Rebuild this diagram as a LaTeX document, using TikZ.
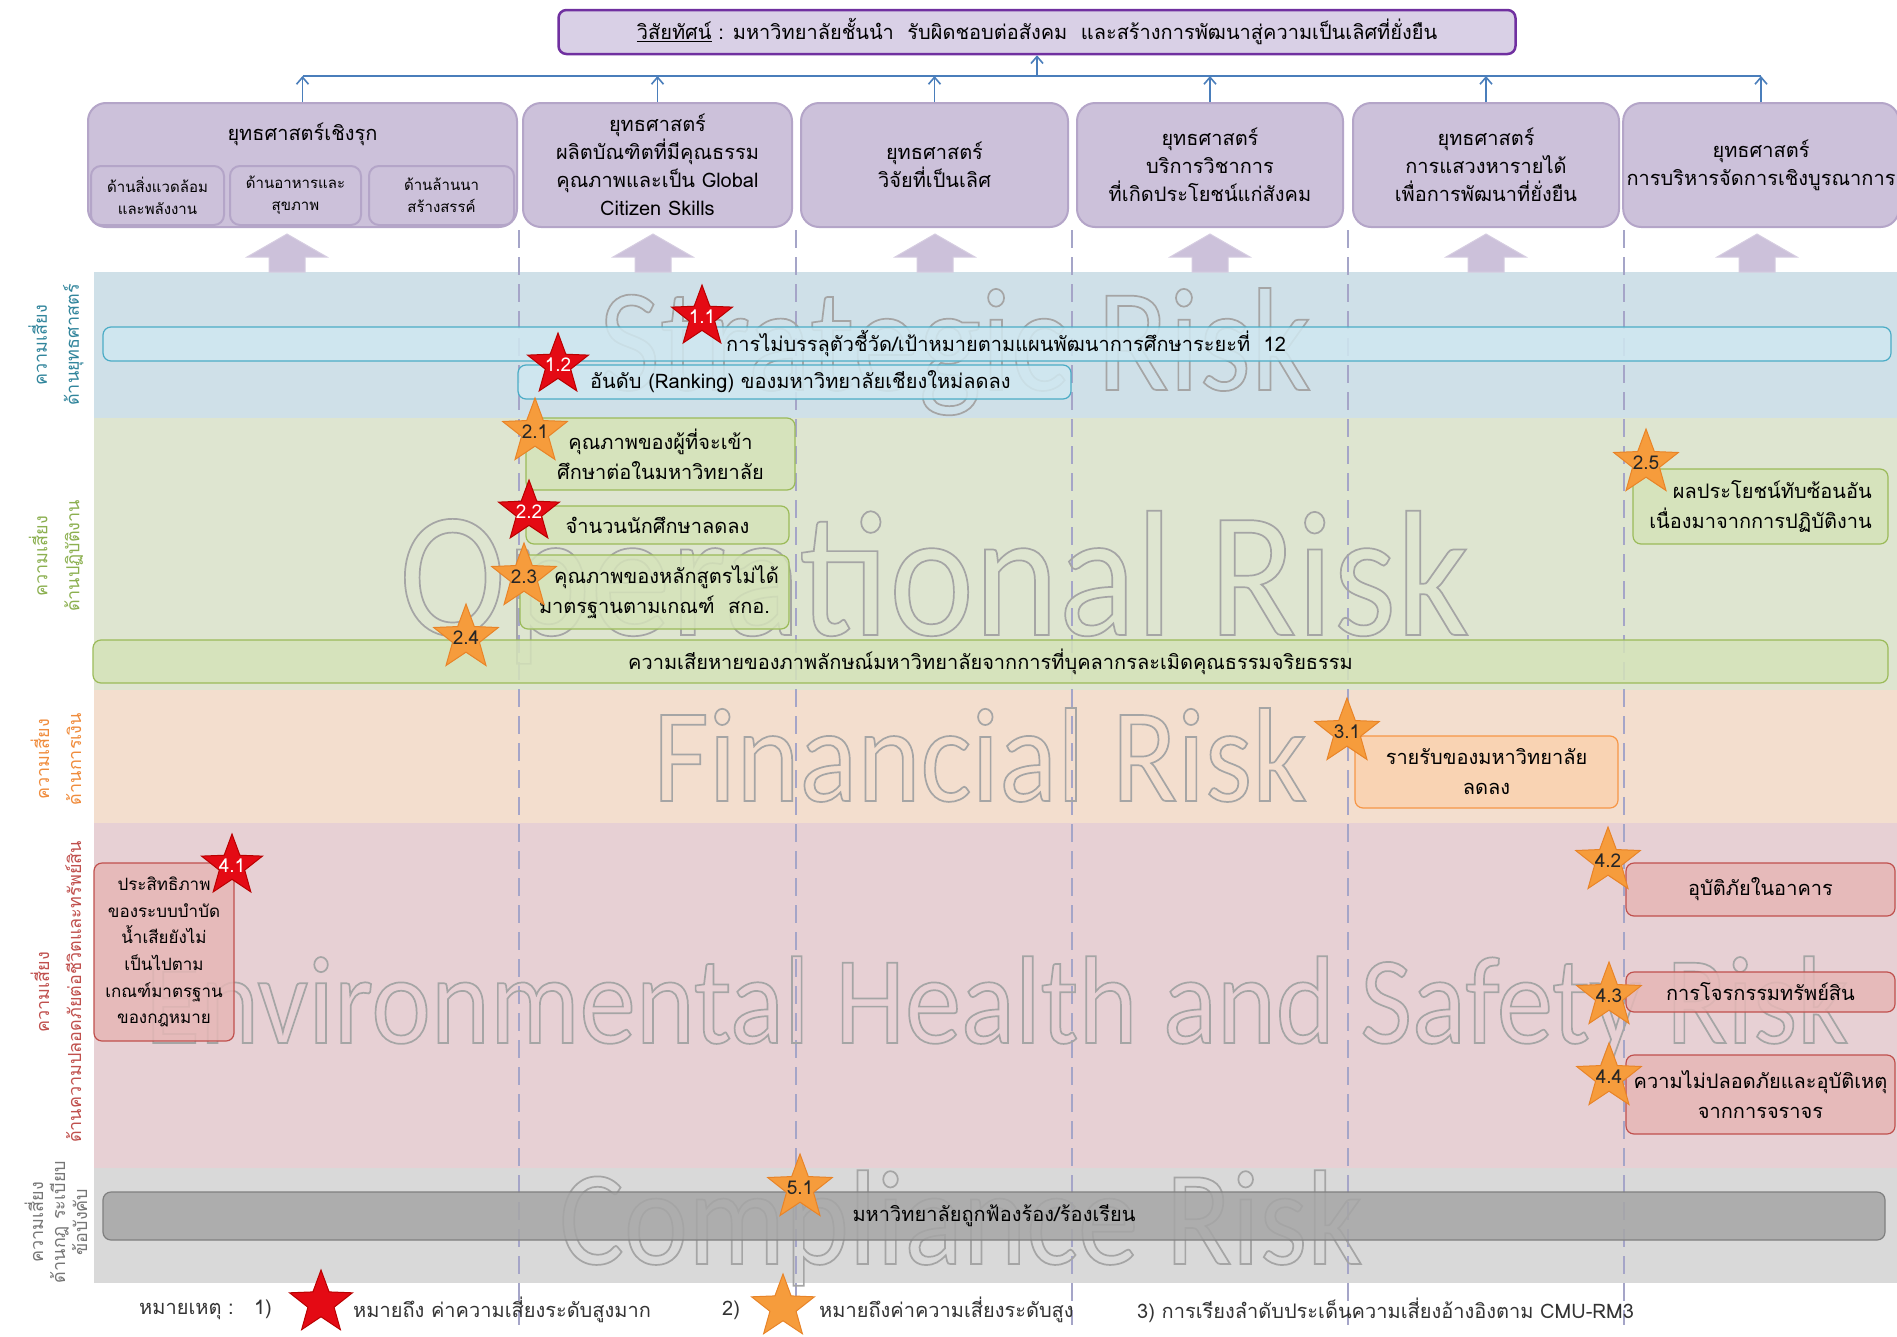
\documentclass[tikz,border=0pt]{standalone}
\usepackage{fontspec}
\setmainfont[Script=Thai]{Loma}
\newfontfamily\wmfont[FakeStretch=0.9]{Carlito}
\usetikzlibrary{shapes.geometric,arrows.meta,positioning}

\definecolor{visfill}{RGB}{217,208,230}
\definecolor{visline}{RGB}{112,48,160}
\definecolor{stratfill}{RGB}{204,193,218}
\definecolor{stratline}{RGB}{180,165,200}
\definecolor{linkblue}{RGB}{74,126,187}
\definecolor{sepgray}{RGB}{165,165,200}
\definecolor{bandblue}{RGB}{207,224,232}
\definecolor{bandgreen}{RGB}{222,229,208}
\definecolor{bandorange}{RGB}{243,222,206}
\definecolor{bandred}{RGB}{231,208,212}
\definecolor{bandgray}{RGB}{217,217,217}
\definecolor{boxblue}{RGB}{208,232,241}
\definecolor{lineblue}{RGB}{75,172,198}
\definecolor{boxgreen}{RGB}{213,227,185}
\definecolor{linegreen}{RGB}{155,187,89}
\definecolor{boxorange}{RGB}{251,210,175}
\definecolor{lineorange}{RGB}{247,150,70}
\definecolor{boxred}{RGB}{230,183,182}
\definecolor{linered}{RGB}{192,80,77}
\definecolor{boxgray}{RGB}{166,166,166}
\definecolor{linegray}{RGB}{127,127,127}
\definecolor{starred}{RGB}{228,10,20}
\definecolor{starredline}{RGB}{185,0,0}
\definecolor{starorange}{RGB}{246,156,60}
\definecolor{starorangeline}{RGB}{232,132,40}
\definecolor{labblue}{RGB}{49,133,156}
\definecolor{labgreen}{RGB}{140,176,80}
\definecolor{laborange}{RGB}{240,140,60}
\definecolor{labred}{RGB}{192,80,77}
\definecolor{labgray}{RGB}{118,118,118}
\definecolor{wmgray}{RGB}{165,165,165}

\tikzstyle{visbox}=[draw=visline,fill=visfill,line width=2.5pt,rounded corners=8pt,font=\fontsize{20}{24}\selectfont]
\tikzstyle{stratbox}=[draw=stratline,fill=stratfill,line width=2pt,rounded corners=18pt,minimum height=124pt,align=center,font=\fontsize{20}{28}\selectfont]
\tikzstyle{subbox}=[draw=stratline,fill=stratfill,line width=2pt,rounded corners=10pt,minimum height=59pt,align=center,font=\fontsize{15}{22}\selectfont]
\tikzstyle{titletext}=[font=\fontsize{20}{24}\selectfont]
\tikzstyle{link}=[draw=linkblue,line width=1.6pt]
\tikzstyle{bigarrow}=[fill=stratfill,draw=stratfill!80!white,line width=1pt]
\tikzstyle{sepline}=[draw=sepgray,line width=1.4pt,dash pattern=on 18pt off 9pt]
\tikzstyle{riskbox}=[rounded corners=8pt,line width=1.2pt,align=center,fill opacity=0.85,text opacity=1,font=\fontsize{20}{30}\selectfont]
\tikzstyle{bluebox}=[riskbox,draw=lineblue,fill=boxblue]
\tikzstyle{greenbox}=[riskbox,draw=linegreen,fill=boxgreen]
\tikzstyle{orangebox}=[riskbox,draw=lineorange,fill=boxorange]
\tikzstyle{redbox}=[riskbox,draw=linered,fill=boxred]
\tikzstyle{graybox}=[riskbox,draw=linegray,fill=boxgray]
\tikzstyle{boxtext}=[font=\fontsize{20}{30}\selectfont,anchor=west,inner sep=0pt]
\tikzstyle{watermark}=[text=wmgray,anchor=base west,inner sep=0pt]
\tikzstyle{redstar}=[star,star points=5,star point ratio=2.4,minimum size=64pt,inner sep=0pt,fill=starred,draw=starredline,line width=1pt]
\tikzstyle{orangestar}=[star,star points=5,star point ratio=2.4,minimum size=68pt,inner sep=0pt,fill=starorange,draw=starorangeline,line width=1pt]
\tikzstyle{rednum}=[text=white,font=\fontsize{19}{19}\selectfont,inner sep=0pt]
\tikzstyle{orangenum}=[text=black!85,font=\fontsize{19}{19}\selectfont,inner sep=0pt]
\tikzstyle{sidelabel}=[rotate=90,align=center,font=\fontsize{18}{32}\selectfont]
\tikzstyle{legendtext}=[text=black!80,font=\fontsize{20}{24}\selectfont,anchor=west,inner sep=0pt]

% outlined letters for the background titles
\newcommand{\hollow}[1]{\special{pdf:literal direct 1 Tr 1.7 w}#1\special{pdf:literal direct 0 Tr}}
% Syntax: \riskstar{red|orange}{name}{x,y}{number}
\newcommand{\riskstar}[4]{
	\node[#1star] (#2) at (#3) {};
	\node[#1num] at (#2.center) {#4};
}

\begin{document}
\begin{tikzpicture}[x=1pt,y=-1pt]
\useasboundingbox (0,0) rectangle (1897,1336);
\fill[white] (0,0) rectangle (1897,1336);

% risk bands
\fill[bandblue] (94,272) rectangle (1897,418);
\fill[bandgreen] (94,418) rectangle (1897,690);
\fill[bandorange] (94,690) rectangle (1897,823);
\fill[bandred] (94,823) rectangle (1897,1168);
\fill[bandgray] (94,1168) rectangle (1897,1283);

\foreach \x in {519,796,1072,1348,1624}
	\draw[sepline] (\x,230) -- (\x,1325);

% background titles
\node[watermark,font=\wmfont\fontsize{147}{147}\selectfont] (wm1) at (599,390) {\hollow{Strategic Risk}};
\node[watermark,font=\wmfont\fontsize{179}{179}\selectfont] (wm2) at (399,635) {\hollow{Operational Risk}};
\node[watermark,font=\wmfont\fontsize{134}{134}\selectfont] (wm3) at (653,801) {\hollow{Financial Risk}};
\node[watermark,font=\wmfont\fontsize{125}{125}\selectfont] (wm4) at (145,1043) {\hollow{Environmental Health and Safety Risk}};
\node[watermark,font=\wmfont\fontsize{135}{135}\selectfont] (wm5) at (559,1264) {\hollow{Compliance Risk}};

% vision and strategies
\node[visbox,minimum width=957pt,minimum height=44pt] (vis) at (1037,32) {\underline{วิสัยทัศน์} : มหาวิทยาลัยชั้นนำ\ \ รับผิดชอบต่อสังคม\ \ และสร้างการพัฒนาสู่ความเป็นเลิศที่ยั่งยืน};

\node[stratbox,minimum width=429pt] (s1) at (302.5,165) {};
\node[titletext] (s1t) at (302.5,134) {ยุทธศาสตร์เชิงรุก};
\node[subbox,minimum width=133pt] (s1a) at (157.5,195.5) {ด้านสิ่งแวดล้อม\\และพลังงาน};
\node[subbox,minimum width=131pt] (s1b) at (295.5,195.5) {ด้านอาหารและ\\สุขภาพ};
\node[subbox,minimum width=145pt] (s1c) at (441.5,195.5) {ด้านล้านนา\\สร้างสรรค์};
\node[stratbox,minimum width=269pt] (s2) at (657.5,165) {ยุทธศาสตร์\\ผลิตบัณฑิตที่มีคุณธรรม\\คุณภาพและเป็น Global\\Citizen Skills};
\node[stratbox,minimum width=267pt] (s3) at (934.5,165) {ยุทธศาสตร์\\วิจัยที่เป็นเลิศ};
\node[stratbox,minimum width=266pt] (s4) at (1210,165) {ยุทธศาสตร์\\บริการวิชาการ\\ที่เกิดประโยชน์แก่สังคม};
\node[stratbox,minimum width=266pt] (s5) at (1486,165) {ยุทธศาสตร์\\การแสวงหารายได้\\เพื่อการพัฒนาที่ยั่งยืน};
\node[stratbox,minimum width=264pt] (s6) at (1761,165) {ยุทธศาสตร์\\การบริหารจัดการเชิงบูรณาการ};

\coordinate (hub) at (1037,76);
\draw[link] (s1.north |- hub) -- (s6.north |- hub);
\foreach \i in {1,...,6}
	\draw[link,-{Straight Barb[length=7pt,width=12pt]}] (s\i.north) -- (s\i.north |- hub);
\draw[link,-{Straight Barb[length=7pt,width=12pt]}] (hub) -- (vis.south);

\foreach \x in {287,653,935,1210,1486,1757}
	\filldraw[bigarrow] (\x-18,272) -- (\x-18,257) -- (\x-40,257) -- (\x,234) -- (\x+40,257) -- (\x+18,257) -- (\x+18,272) -- cycle;

% side labels
\node[sidelabel,text=labblue] (l1) at (56,345) {ความเสี่ยง\\ด้านยุทธศาสตร์};
\node[sidelabel,text=labgreen] (l2) at (56,556) {ความเสี่ยง\\ด้านปฏิบัติงาน};
\node[sidelabel,text=laborange] (l3) at (56,759) {ความเสี่ยง\\ด้านการเงิน};
\node[sidelabel,text=labred] (l4) at (56,992) {ความเสี่ยง\\ด้านความปลอดภัยต่อชีวิตและทรัพย์สิน};
\node[sidelabel,text=labgray,font=\fontsize{18}{22}\selectfont] (l5) at (56,1222) {ความเสี่ยง\\ด้านกฎ ระเบียบ\\ข้อบังคับ};

% risk items
\node[bluebox,minimum width=1788pt,minimum height=34pt] (r11) at (997,344) {};
\node[boxtext] (r11t) at (726,344) {การไม่บรรลุตัวชี้วัด/เป้าหมายตามแผนพัฒนาการศึกษาระยะที่\ \ 12};
\node[bluebox,minimum width=553pt,minimum height=34pt] (r12) at (794.5,382) {};
\node[boxtext] (r12t) at (590,382) {อันดับ (Ranking) ของมหาวิทยาลัยเชียงใหม่ลดลง};

\node[greenbox,minimum width=269pt,minimum height=72pt] (r21) at (660.5,454) {คุณภาพของผู้ที่จะเข้า\\ศึกษาต่อในมหาวิทยาลัย};
\node[greenbox,minimum width=263pt,minimum height=38pt] (r22) at (657.5,525) {จำนวนนักศึกษาลดลง};
\node[greenbox,minimum width=269pt,minimum height=74pt] (r23) at (654.5,592) {\hspace*{24pt}คุณภาพของหลักสูตรไม่ได้\\มาตรฐานตามเกณฑ์\ \ สกอ.};
\node[greenbox,minimum width=1795pt,minimum height=43pt] (r24) at (990.5,661.5) {ความเสียหายของภาพลักษณ์มหาวิทยาลัยจากการที่บุคลากรละเมิดคุณธรรมจริยธรรม};
\node[greenbox,minimum width=255pt,minimum height=75pt,align=right] (r25) at (1760.5,506.5) {ผลประโยชน์ทับซ้อนอัน\\เนื่องมาจากการปฏิบัติงาน};

\node[orangebox,minimum width=263pt,minimum height=72pt] (r31) at (1486.5,772) {รายรับของมหาวิทยาลัย\\ลดลง};

\node[redbox,minimum width=140pt,minimum height=178pt,font=\fontsize{17}{26.6}\selectfont] (r41) at (164,952) {ประสิทธิภาพ\\ของระบบบำบัด\\น้ำเสียยังไม่\\เป็นไปตาม\\เกณฑ์มาตรฐาน\\ของกฎหมาย};
\node[redbox,minimum width=269pt,minimum height=53pt] (r42) at (1760.5,889.5) {อุบัติภัยในอาคาร};
\node[redbox,minimum width=269pt,minimum height=40pt] (r43) at (1760.5,992) {การโจรกรรมทรัพย์สิน};
\node[redbox,minimum width=269pt,minimum height=79pt] (r44) at (1760.5,1094.5) {ความไม่ปลอดภัยและอุบัติเหตุ\\จากการจราจร};

\node[graybox,minimum width=1782pt,minimum height=48pt] (r51) at (994,1216) {มหาวิทยาลัยถูกฟ้องร้อง/ร้องเรียน};

% risk levels
\riskstar{red}{k11}{702,317}{1.1}
\riskstar{red}{k12}{558,365}{1.2}
\riskstar{orange}{k21}{535,432}{2.1}
\riskstar{red}{k22}{529,512}{2.2}
\riskstar{orange}{k23}{524,577}{2.3}
\riskstar{orange}{k24}{466,638}{2.4}
\riskstar{orange}{k25}{1646,463}{2.5}
\riskstar{orange}{k31}{1347,732}{3.1}
\riskstar{red}{k41}{232,866}{4.1}
\riskstar{orange}{k42}{1608,861}{4.2}
\riskstar{orange}{k43}{1609,996}{4.3}
\riskstar{orange}{k44}{1609,1077}{4.4}
\riskstar{orange}{k51}{800,1188}{5.1}

% legend
\node[legendtext] (n1) at (139,1310) {หมายเหตุ :\ \ \ 1)};
\node[redstar,minimum size=66pt] (n1s) at (321,1303) {};
\node[legendtext] (n1t) at (353,1310) {หมายถึง ค่าความเสี่ยงระดับสูงมาก};
\node[legendtext] (n2) at (722,1310) {2)};
\node[orangestar,minimum size=66pt] (n2s) at (783,1307) {};
\node[legendtext] (n2t) at (819,1310) {หมายถึงค่าความเสี่ยงระดับสูง};
\node[legendtext] (n3) at (1137,1310) {3) การเรียงลำดับประเด็นความเสี่ยงอ้างอิงตาม CMU-RM3};
\end{tikzpicture}
\end{document}
